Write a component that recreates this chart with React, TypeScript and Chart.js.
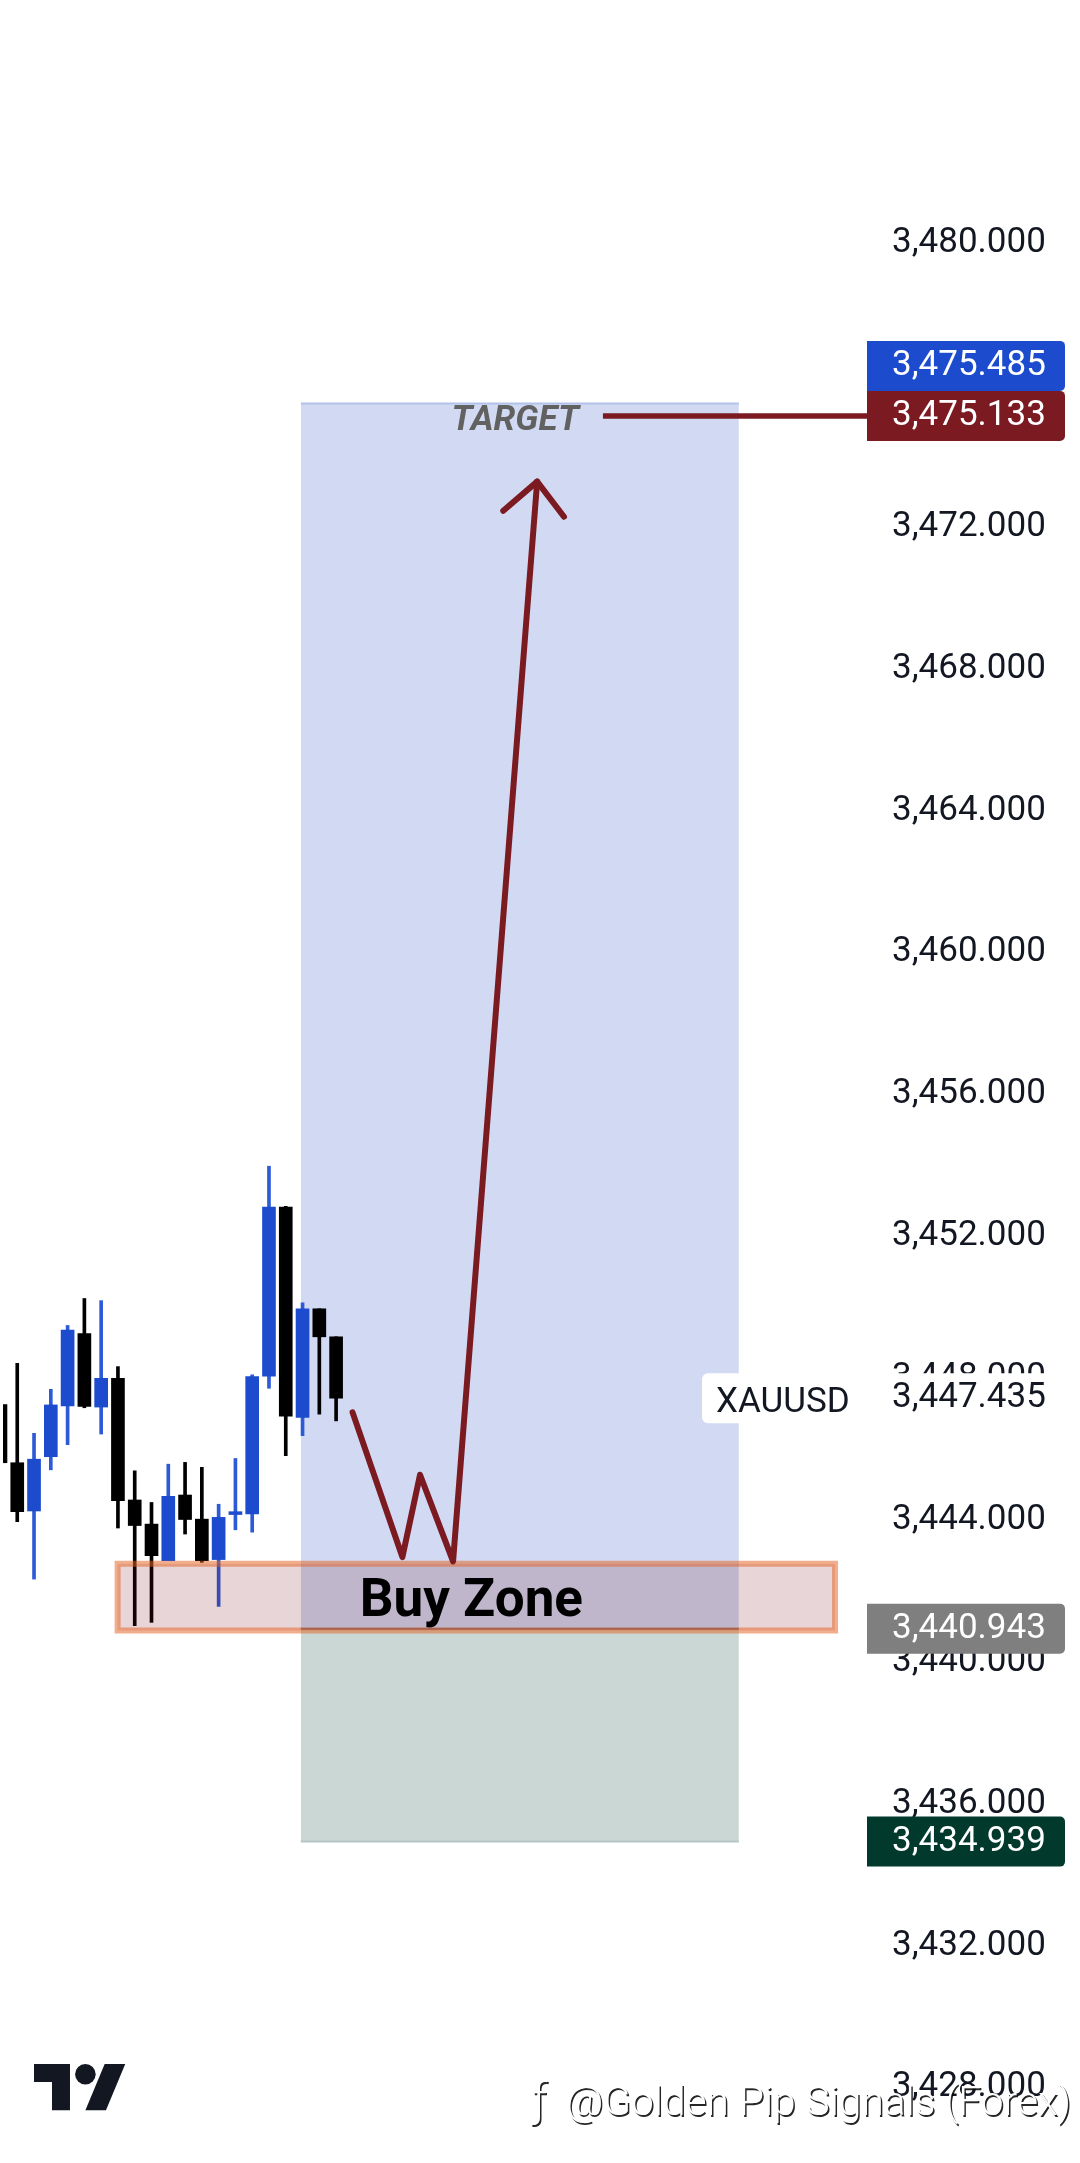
import React, { useEffect, useRef } from 'react';
import { Chart, registerables } from 'chart.js';

Chart.register(...registerables);

// ---------- candles (index, OHLC) ----------
const candleIndex = [0, 1, 2, 3, 4, 5, 6, 7, 8, 9, 10, 11, 12, 13, 14, 15, 16, 17, 18, 19, 20];
const candleOpen = [3447.26, 3445.62, 3444.26, 3445.79, 3447.22, 3449.26, 3447.19, 3448.0, 3444.57, 3443.89, 3442.86, 3444.71, 3444.03, 3442.89, 3444.16, 3444.18, 3448.06, 3452.83, 3446.9, 3449.96, 3449.17];
const candleHigh = [3448.12, 3448.42, 3446.45, 3447.69, 3449.49, 3450.25, 3450.19, 3448.33, 3445.39, 3444.5, 3445.58, 3445.63, 3445.49, 3444.45, 3445.74, 3448.1, 3453.98, 3452.85, 3450.13, 3449.96, 3449.17];
const candleLow = [3445.12, 3443.96, 3442.34, 3445.42, 3446.13, 3447.17, 3446.43, 3443.78, 3441.03, 3441.12, 3442.86, 3443.61, 3442.81, 3441.57, 3443.73, 3443.66, 3447.72, 3445.82, 3446.38, 3446.99, 3446.8];
const candleClose = [3445.62, 3444.24, 3445.72, 3447.25, 3449.36, 3447.21, 3448.0, 3444.55, 3443.85, 3443.0, 3444.67, 3444.02, 3442.86, 3444.08, 3444.24, 3448.05, 3452.83, 3446.93, 3449.96, 3449.17, 3447.44];

// ---------- axes ----------
const priceTicks = [3428, 3432, 3436, 3440, 3444, 3448, 3452, 3456, 3460, 3464, 3468, 3472, 3476, 3480];
const priceMin = 3425.963;
const priceMax = 3486.773;
const barMin = 0.1508;
const barMax = 51.635;

// ---------- drawings (bar index / price) ----------
const targetZoneX = [17.9, 44.0];
const targetZonePrice = [3475.485, 3440.943];
const stopZonePrice = [3440.943, 3434.939];
const buyZoneX = [6.98, 49.73];
const buyZonePrice = [3442.775, 3440.89];
const pathX = [20.98, 23.95, 25.0, 26.97, 31.98];
const pathPrice = [3447.04, 3442.96, 3445.28, 3442.84, 3473.28];
const arrowX = [29.96, 31.98, 33.58];
const arrowPrice = [3472.46, 3473.28, 3472.29];
const targetLineX = [35.9, 51.635];
const targetPrice = 3475.133;

// ---------- labels ----------
const targetLabel = 'TARGET';
const targetLabelX = 26.88;
const targetLabelPrice = 3474.73;
const buyZoneLabel = 'Buy Zone';
const buyZoneLabelX = 28.06;
const buyZoneLabelPrice = 3441.31;
const symbolName = 'XAUUSD';
const priceTagValues = [3475.485, 3475.133, 3447.435, 3440.943, 3434.939];
const priceTagFill = ['#1c4bce', '#7c1a22', '#ffffff', '#7f7f7f', '#013a2c'];
const priceTagInk = ['#ffffff', '#ffffff', '#131722', '#ffffff', '#ffffff'];
const watermarkText = '@Golden Pip Signals (Forex)';

const UP_BODY = '#1c4bce';
const UP_WICK = '#2d5ad6';
const DOWN = '#000000';
const ARROW = '#7c1a22';

const fmt = (v: number) =>
  v.toLocaleString('en-US', { minimumFractionDigits: 3, maximumFractionDigits: 3 });

function roundRect(ctx: CanvasRenderingContext2D, x: number, y: number, w: number, h: number, r: number[]) {
  const [tl, tr, br, bl] = r;
  ctx.beginPath();
  ctx.moveTo(x + tl, y);
  ctx.lineTo(x + w - tr, y);
  ctx.arcTo(x + w, y, x + w, y + tr, tr);
  ctx.lineTo(x + w, y + h - br);
  ctx.arcTo(x + w, y + h, x + w - br, y + h, br);
  ctx.lineTo(x + bl, y + h);
  ctx.arcTo(x, y + h, x, y + h - bl, bl);
  ctx.lineTo(x, y + tl);
  ctx.arcTo(x, y, x + tl, y, tl);
  ctx.closePath();
}

const overlayPlugin = {
  id: 'overlay',
  afterDraw(chart: any) {
    const ctx: CanvasRenderingContext2D = chart.ctx;
    const xs = chart.scales.x;
    const ys = chart.scales.y;
    const area = chart.chartArea;
    ctx.save();

    // TARGET text
    ctx.font = 'italic bold 35px Roboto';
    ctx.fillStyle = '#616161';
    ctx.textAlign = 'left';
    ctx.textBaseline = 'alphabetic';
    ctx.fillText(targetLabel, xs.getPixelForValue(targetLabelX), ys.getPixelForValue(targetLabelPrice));

    // Buy Zone text
    ctx.font = 'bold 53px Roboto';
    ctx.fillStyle = '#000000';
    ctx.textAlign = 'center';
    ctx.fillText(buyZoneLabel, xs.getPixelForValue(buyZoneLabelX), ys.getPixelForValue(buyZoneLabelPrice));

    // price tags
    const tagLeft = area.right;
    const tagW = 198;
    const tagH = 50;
    const centers = priceTagValues.map((v) => ys.getPixelForValue(v));
    centers[0] = centers[1] - tagH;
    priceTagValues.forEach((v, i) => {
      const cy = centers[i];
      ctx.fillStyle = priceTagFill[i];
      if (i === 2) {
        roundRect(ctx, tagLeft - 165, cy - tagH / 2, tagW + 165, tagH, [6, 5, 5, 6]);
        ctx.fill();
        ctx.font = '35px Roboto';
        ctx.fillStyle = '#131722';
        ctx.textAlign = 'left';
        ctx.fillText(symbolName, tagLeft - 151, cy + 13.5);
      } else {
        roundRect(ctx, tagLeft, cy - tagH / 2, tagW, tagH, [0, 5, 5, 0]);
        ctx.fill();
      }
      ctx.font = '35px Roboto';
      ctx.fillStyle = priceTagInk[i];
      ctx.textAlign = 'left';
      ctx.fillText(fmt(v), tagLeft + 25, cy + 9);
    });

    // TradingView logo
    const lx = 34;
    const ly = 2064;
    const s = 2.57;
    const P = (x: number, y: number): [number, number] => [lx + x * s, ly + (y - 4) * s];
    ctx.fillStyle = '#131722';
    ctx.beginPath();
    ctx.moveTo(...P(14, 22));
    ctx.lineTo(...P(7, 22));
    ctx.lineTo(...P(7, 11));
    ctx.lineTo(...P(0, 11));
    ctx.lineTo(...P(0, 4));
    ctx.lineTo(...P(14, 4));
    ctx.closePath();
    ctx.fill();
    ctx.beginPath();
    const c = P(20, 8);
    ctx.arc(c[0], c[1], 4 * s, 0, Math.PI * 2);
    ctx.fill();
    ctx.beginPath();
    ctx.moveTo(...P(28, 22));
    ctx.lineTo(...P(20, 22));
    ctx.lineTo(...P(27.5, 4));
    ctx.lineTo(...P(35.5, 4));
    ctx.closePath();
    ctx.fill();

    // watermark
    ctx.font = '300 40px Roboto';
    const w = ctx.measureText(watermarkText).width;
    ctx.shadowColor = 'rgba(0,0,0,0.85)';
    ctx.shadowOffsetX = 1.5;
    ctx.shadowOffsetY = 1.5;
    ctx.shadowBlur = 0.5;
    ctx.fillStyle = '#ffffff';
    ctx.textAlign = 'left';
    ctx.save();
    ctx.translate(566, 2115);
    ctx.scale(505 / w, 1);
    ctx.fillText(watermarkText, 0, 0);
    ctx.restore();
    ctx.font = '300 46px Roboto';
    ctx.fillText('\u0192', 532, 2116);

    ctx.restore();
  },
};

const pts = (xs: number[], ys: number[]) => xs.map((x, i) => ({ x, y: ys[i] }));

export default function App() {
  const ref = useRef<HTMLCanvasElement>(null);

  useEffect(() => {
    const canvas = ref.current;
    if (!canvas) return;

    const isUp = candleIndex.map((_, i) => candleClose[i] >= candleOpen[i]);

    const lineBase = {
      type: 'line' as const,
      pointRadius: 0,
      pointHoverRadius: 0,
      pointHitRadius: 0,
      tension: 0,
    };

    const datasets: any[] = [
      {
        ...lineBase,
        label: 'target zone',
        data: pts(targetZoneX, [targetZonePrice[0], targetZonePrice[0]]),
        fill: { value: targetZonePrice[1] },
        backgroundColor: '#d1daf2',
        borderColor: '#b2c2ea',
        borderWidth: 2,
        order: 10,
      },
      {
        ...lineBase,
        label: 'stop zone',
        data: pts(targetZoneX, [stopZonePrice[0], stopZonePrice[0]]),
        fill: { value: stopZonePrice[1] },
        backgroundColor: '#cbd7d5',
        borderColor: 'rgba(0,0,0,0)',
        borderWidth: 0,
        order: 9,
      },
      {
        ...lineBase,
        label: 'stop edge',
        data: pts(targetZoneX, [stopZonePrice[1], stopZonePrice[1]]),
        fill: false,
        borderColor: '#b6c5c3',
        borderWidth: 2,
        order: 8,
      },
      {
        type: 'bar',
        label: 'wicks',
        data: candleIndex.map((x, i) => ({ x, y: [candleLow[i], candleHigh[i]] })),
        backgroundColor: isUp.map((u) => (u ? UP_WICK : DOWN)),
        barThickness: 3,
        maxBarThickness: 3,
        grouped: false,
        borderWidth: 0,
        order: 6,
      },
      {
        type: 'bar',
        label: 'bodies',
        data: candleIndex.map((x, i) => ({ x, y: [candleOpen[i], candleClose[i]] })),
        backgroundColor: isUp.map((u) => (u ? UP_BODY : DOWN)),
        barThickness: 13,
        maxBarThickness: 13,
        minBarLength: 2,
        grouped: false,
        borderWidth: 0,
        order: 5,
      },
      {
        ...lineBase,
        label: 'buy zone',
        data: pts(
          [buyZoneX[0], buyZoneX[1], buyZoneX[1], buyZoneX[0], buyZoneX[0]],
          [buyZonePrice[0], buyZonePrice[0], buyZonePrice[1], buyZonePrice[1], buyZonePrice[0]]
        ),
        fill: 'shape',
        backgroundColor: 'rgba(110,5,15,0.17)',
        borderColor: 'rgba(228,100,36,0.52)',
        borderWidth: 6,
        borderJoinStyle: 'miter',
        borderCapStyle: 'square',
        order: 3,
      },
      {
        ...lineBase,
        label: 'entry',
        data: pts(targetZoneX, [targetZonePrice[1], targetZonePrice[1]]),
        fill: false,
        borderColor: 'rgba(120,60,45,0.5)',
        borderWidth: 2,
        order: 2.5,
      },
      {
        ...lineBase,
        label: 'path',
        data: pts(pathX, pathPrice),
        fill: false,
        borderColor: ARROW,
        borderWidth: 6,
        borderCapStyle: 'round',
        borderJoinStyle: 'round',
        order: 2,
      },
      {
        ...lineBase,
        label: 'arrow head',
        data: pts(arrowX, arrowPrice),
        fill: false,
        borderColor: ARROW,
        borderWidth: 6,
        borderCapStyle: 'round',
        borderJoinStyle: 'round',
        order: 2,
      },
      {
        ...lineBase,
        label: 'target line',
        data: pts(targetLineX, [targetPrice, targetPrice]),
        fill: false,
        borderColor: ARROW,
        borderWidth: 5.5,
        order: 1,
      },
    ];

    Chart.defaults.font.family = 'Roboto';

    const chart = new Chart(canvas, {
      type: 'bar',
      data: { datasets },
      options: {
        animation: false,
        responsive: false,
        devicePixelRatio: 1,
        events: [],
        layout: { padding: 0 },
        plugins: {
          legend: { display: false },
          tooltip: { enabled: false },
          title: { display: false },
        },
        scales: {
          x: {
            type: 'linear',
            bounds: 'data',
            min: barMin,
            max: barMax,
            offset: false,
            display: false,
          },
          y: {
            type: 'linear',
            position: 'right',
            bounds: 'data',
            min: priceMin,
            max: priceMax,
            beginAtZero: false,
            afterBuildTicks: (scale: any) => {
              scale.ticks = priceTicks.map((v) => ({ value: v }));
            },
            afterFit: (scale: any) => {
              scale.width = 213;
              scale.paddingTop = 0;
              scale.paddingBottom = 0;
            },
            grid: { display: false, drawTicks: false },
            border: { display: false },
            ticks: {
              autoSkip: false,
              padding: 25,
              color: '#131722',
              font: { family: 'Roboto', size: 35 },
              callback: (v: any) => fmt(Number(v)),
            },
          },
        },
      } as any,
      plugins: [overlayPlugin],
    } as any);

    let alive = true;
    const fonts = ['35px Roboto', 'bold 53px Roboto', 'italic bold 35px Roboto', '300 40px Roboto'];
    Promise.all(fonts.map((f) => (document as any).fonts.load(f)))
      .then(() => {
        if (alive) chart.update('none');
      })
      .catch(() => {});

    return () => {
      alive = false;
      chart.destroy();
    };
  }, []);

  return (
    <div style={{ position: 'absolute', left: 0, top: 0, width: 1080, height: 2163, background: '#ffffff' }}>
      <canvas ref={ref} width={1080} height={2163} style={{ display: 'block', width: 1080, height: 2163 }} />
    </div>
  );
}
